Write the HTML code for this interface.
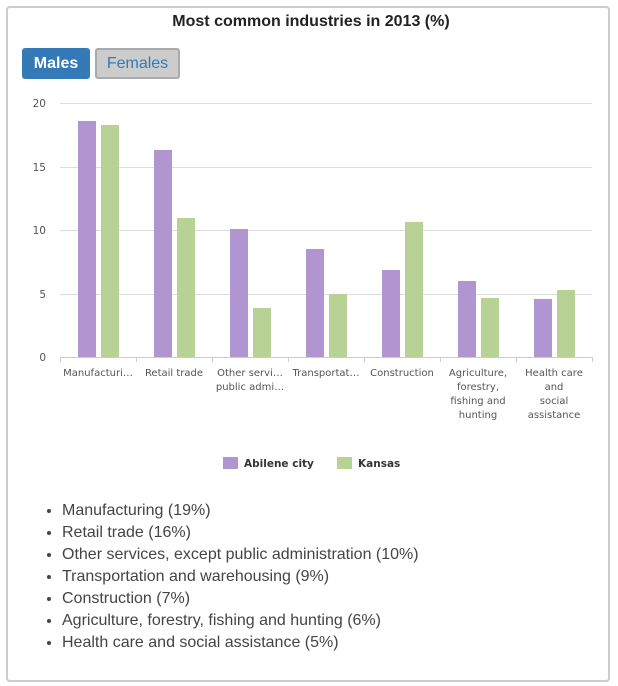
<!DOCTYPE html>
<html><head><style>
body{margin:0;background:#fff;font-family:"Liberation Sans",sans-serif;}
.box{position:absolute;left:6px;top:6px;width:600px;height:672px;border:2px solid #ccc;border-radius:4px;}
.title{position:absolute;left:2px;top:13px;width:618px;text-align:center;font-weight:bold;font-size:16px;color:#222;}
.b1{position:absolute;left:22px;top:48px;width:68px;height:31px;background:#337ab7;border-radius:3px;color:#fff;font-weight:bold;font-size:16px;text-align:center;line-height:31px;}
.b2{position:absolute;left:95px;top:48px;width:81px;height:27px;background:#ccc;border:2px solid #aaa;border-radius:3px;color:#337ab7;font-size:16px;text-align:center;line-height:27px;}
ul{position:absolute;left:22px;top:500px;margin:0;padding-left:40px;font-size:16px;color:#444;line-height:22px;}
</style></head><body>
<div class="box"></div>
<div class="title">Most common industries in 2013 (%)</div>
<div class="b1">Males</div><div class="b2">Females</div>
<svg width="618" height="686" style="position:absolute;left:0;top:0" font-family="DejaVu Sans, sans-serif">
<g stroke="#ddd" stroke-width="1">
<line x1="60" x2="592" y1="103.5" y2="103.5"/><line x1="60" x2="592" y1="167.5" y2="167.5"/>
<line x1="60" x2="592" y1="230.5" y2="230.5"/><line x1="60" x2="592" y1="294.5" y2="294.5"/>
</g>
<g font-size="10.5" fill="#555" text-anchor="end">
<text x="46" y="107">20</text><text x="46" y="171">15</text><text x="46" y="234">10</text><text x="46" y="298">5</text><text x="46" y="361">0</text>
</g>
<g fill="#b095d0">
<rect x="78" y="121" width="18" height="236"/><rect x="154" y="150" width="18" height="207"/>
<rect x="230" y="229" width="18" height="128"/><rect x="306" y="249" width="18" height="108"/>
<rect x="382" y="270" width="18" height="87"/><rect x="458" y="281" width="18" height="76"/>
<rect x="534" y="299" width="18" height="58"/>
</g>
<g fill="#b8d194">
<rect x="101" y="125" width="18" height="232"/><rect x="177" y="218" width="18" height="139"/>
<rect x="253" y="308" width="18" height="49"/><rect x="329" y="294" width="18" height="63"/>
<rect x="405" y="222" width="18" height="135"/><rect x="481" y="298" width="18" height="59"/>
<rect x="557" y="290" width="18" height="67"/>
</g>
<g stroke="#c0d0e0" stroke-width="1">
<line x1="60" x2="592" y1="357.5" y2="357.5"/>
<line x1="60.5" x2="60.5" y1="357" y2="362"/><line x1="136.5" x2="136.5" y1="357" y2="362"/>
<line x1="212.5" x2="212.5" y1="357" y2="362"/><line x1="288.5" x2="288.5" y1="357" y2="362"/>
<line x1="364.5" x2="364.5" y1="357" y2="362"/><line x1="440.5" x2="440.5" y1="357" y2="362"/>
<line x1="516.5" x2="516.5" y1="357" y2="362"/><line x1="592.5" x2="592.5" y1="357" y2="362"/>
</g>
<g font-size="10" fill="#555" text-anchor="middle">
<text x="98" y="376">Manufacturi…</text>
<text x="174" y="376">Retail trade</text>
<text x="250" y="376">Other servi…</text><text x="250" y="390">public admi…</text>
<text x="326" y="376">Transportat…</text>
<text x="402" y="376">Construction</text>
<text x="478" y="376">Agriculture,</text><text x="478" y="390">forestry,</text><text x="478" y="404">fishing and</text><text x="478" y="418">hunting</text>
<text x="554" y="376">Health care</text><text x="554" y="390">and</text><text x="554" y="404">social</text><text x="554" y="418">assistance</text>
</g>
<rect x="223" y="457" width="15" height="12" fill="#b095d0"/>
<text x="244" y="467" font-size="10.5" font-weight="bold" fill="#333">Abilene city</text>
<rect x="337" y="457" width="15" height="12" fill="#b8d194"/>
<text x="358" y="467" font-size="10.5" font-weight="bold" fill="#333">Kansas</text>
</svg>
<ul>
<li>Manufacturing (19%)</li>
<li>Retail trade (16%)</li>
<li>Other services, except public administration (10%)</li>
<li>Transportation and warehousing (9%)</li>
<li>Construction (7%)</li>
<li>Agriculture, forestry, fishing and hunting (6%)</li>
<li>Health care and social assistance (5%)</li>
</ul>
</body></html>
